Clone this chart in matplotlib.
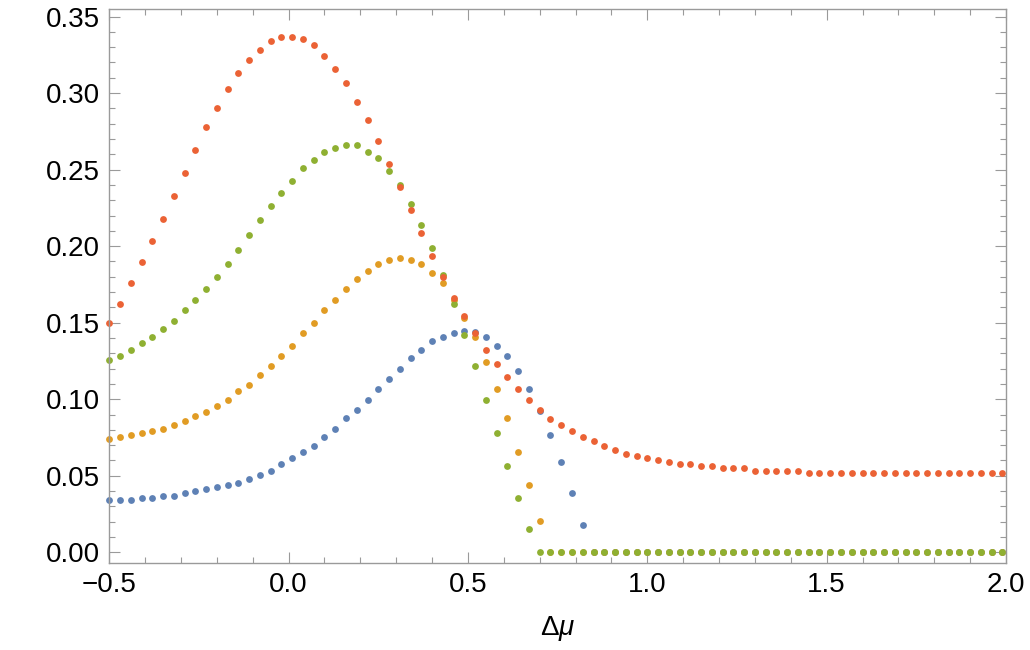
import matplotlib
matplotlib.use("Agg")
import matplotlib.pyplot as plt
from matplotlib.ticker import MultipleLocator

plt.rcParams['font.family'] = ['Liberation Sans', 'DejaVu Sans']
plt.rcParams['mathtext.fontset'] = 'custom'
plt.rcParams['mathtext.rm'] = 'Liberation Sans'
plt.rcParams['mathtext.it'] = 'Liberation Sans:italic'

# x grid (Δμ)
dmu = [-0.50, -0.47, -0.44, -0.41, -0.38, -0.35, -0.32, -0.29, -0.26, -0.23,
       -0.20, -0.17, -0.14, -0.11, -0.08, -0.05, -0.02, 0.01, 0.04, 0.07,
       0.10, 0.13, 0.16, 0.19, 0.22, 0.25, 0.28, 0.31, 0.34, 0.37,
       0.40, 0.43, 0.46, 0.49, 0.52, 0.55, 0.58, 0.61, 0.64, 0.67,
       0.70, 0.73, 0.76, 0.79, 0.82, 0.85, 0.88, 0.91, 0.94, 0.97,
       1.00, 1.03, 1.06, 1.09, 1.12, 1.15, 1.18, 1.21, 1.24, 1.27,
       1.30, 1.33, 1.36, 1.39, 1.42, 1.45, 1.48, 1.51, 1.54, 1.57,
       1.60, 1.63, 1.66, 1.69, 1.72, 1.75, 1.78, 1.81, 1.84, 1.87,
       1.90, 1.93, 1.96, 1.99]

blue = [0.0344, 0.0344, 0.0344, 0.0357, 0.0357, 0.0370, 0.0370, 0.0385, 0.0399, 0.0412,
        0.0425, 0.0440, 0.0453, 0.0479, 0.0507, 0.0533, 0.0575, 0.0616, 0.0657, 0.0697,
        0.0753, 0.0806, 0.0875, 0.0930, 0.0997, 0.1065, 0.1132, 0.1200, 0.1269, 0.1324,
        0.1378, 0.1405, 0.1433, 0.1448, 0.1440, 0.1405, 0.1350, 0.1282, 0.1186, 0.1065,
        0.0920, 0.0766, 0.0588, 0.0385, 0.0180] + [0.0] * 39

orange = [0.0738, 0.0753, 0.0766, 0.0779, 0.0792, 0.0808, 0.0834, 0.0860, 0.0888, 0.0915,
          0.0956, 0.0997, 0.1052, 0.1091, 0.1160, 0.1215, 0.1282, 0.1350, 0.1433, 0.1500,
          0.1581, 0.1650, 0.1718, 0.1785, 0.1840, 0.1882, 0.1910, 0.1923, 0.1910, 0.1882,
          0.1827, 0.1759, 0.1650, 0.1530, 0.1405, 0.1241, 0.1065, 0.0875, 0.0657, 0.0440,
          0.0206] + [0.0] * 43

green = [0.1256, 0.1282, 0.1324, 0.1365, 0.1407, 0.1459, 0.1513, 0.1581, 0.1650, 0.1718,
         0.1800, 0.1881, 0.1977, 0.2071, 0.2169, 0.2264, 0.2345, 0.2426, 0.2509, 0.2563,
         0.2617, 0.2643, 0.2659, 0.2659, 0.2617, 0.2576, 0.2493, 0.2400, 0.2275, 0.2140,
         0.1990, 0.1814, 0.1622, 0.1420, 0.1215, 0.0997, 0.0779, 0.0562, 0.0357, 0.0152] + [0.0] * 44

red = [0.1500, 0.1624, 0.1757, 0.1897, 0.2032, 0.2180, 0.2330, 0.2480, 0.2630, 0.2780,
       0.2903, 0.3025, 0.3133, 0.3214, 0.3284, 0.3338, 0.3366, 0.3366, 0.3351, 0.3312,
       0.3242, 0.3159, 0.3066, 0.2944, 0.2822, 0.2685, 0.2536, 0.2386, 0.2236, 0.2086,
       0.1936, 0.1800, 0.1663, 0.1542, 0.1433, 0.1324, 0.1228, 0.1146, 0.1065, 0.0997,
       0.0928, 0.0873, 0.0834, 0.0792, 0.0751, 0.0725, 0.0697, 0.0668, 0.0642, 0.0629,
       0.0614, 0.0601, 0.0588, 0.0575, 0.0575, 0.0562, 0.0562, 0.0548, 0.0548, 0.0548,
       0.0533, 0.0533, 0.0533, 0.0533, 0.0533, 0.0520, 0.0520, 0.0520, 0.0520, 0.0520,
       0.0520, 0.0520, 0.0520, 0.0520, 0.0520, 0.0520, 0.0520, 0.0520, 0.0520, 0.0520,
       0.0520, 0.0520, 0.0520, 0.0520]

series = [blue, orange, green, red]
colors = ['#5E81B5', '#E19C24', '#8FB032', '#EB6235']

fig = plt.figure(figsize=(10.3, 6.5), dpi=100)
ax = fig.add_axes([0.1061, 0.1343, 0.8706, 0.8523])

for ys, c in zip(series, colors):
    ax.plot(dmu, ys, linestyle='none', marker='o', ms=4.9, mec='none', mfc=c, clip_on=False)

ax.set_xlim(-0.5, 2.0)
ax.set_ylim(-0.0068, 0.3551)

ax.xaxis.set_major_locator(MultipleLocator(0.5))
ax.xaxis.set_minor_locator(MultipleLocator(0.1))
ax.yaxis.set_major_locator(MultipleLocator(0.05))
ax.yaxis.set_minor_locator(MultipleLocator(0.01))
ax.xaxis.set_major_formatter(matplotlib.ticker.FuncFormatter(lambda v, p: f"{v:.1f}".replace('-', '\u2212')))
ax.yaxis.set_major_formatter(matplotlib.ticker.FuncFormatter(lambda v, p: f"{v:.2f}"))

frame_col = '#9a9a9a'
for s in ax.spines.values():
    s.set_color(frame_col)
    s.set_linewidth(1.0)

ax.tick_params(which='both', direction='in', top=True, right=True, color=frame_col, width=0.8,
               labelsize=20, labelcolor='black')
ax.tick_params(which='major', length=8, pad=7)
ax.tick_params(which='minor', length=4.5)

ax.set_xlabel(r'$\Delta\mu$', fontsize=20, labelpad=11)

fig.savefig('out.png', dpi=100)
